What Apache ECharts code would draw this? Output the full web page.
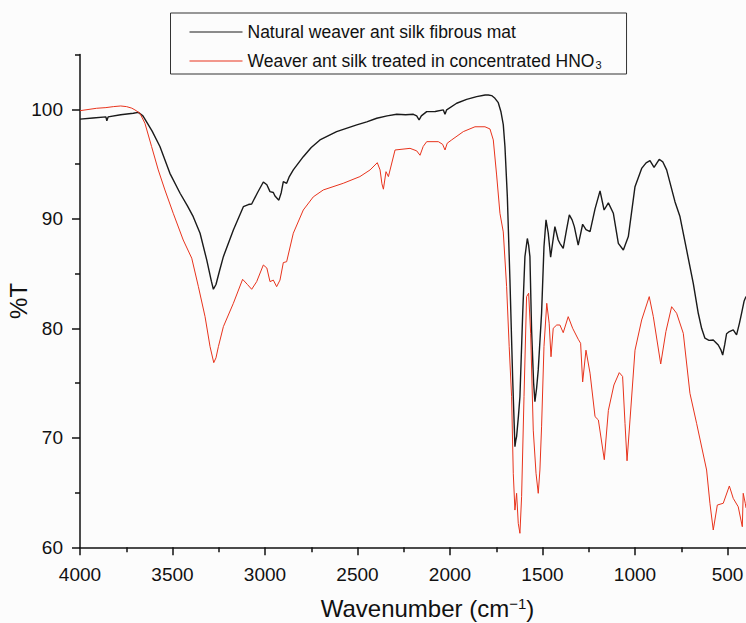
<!DOCTYPE html>
<html>
<head>
<meta charset="utf-8">
<style>
html, body {margin: 0; padding: 0; background: #fcfcfc;}
#main {width: 746px; height: 623px;}
</style>
<script src="https://cdn.jsdelivr.net/npm/echarts@6/dist/echarts.min.js"></script>
</head>
<body>
<div id="main"></div>
<script>
// FTIR spectra, [wavenumber, %T]
var naturalName = 'Natural weaver ant silk fibrous mat';
var treatedName = 'Weaver ant silk treated in concentrated HNO3';

var naturalSilk = [
    [4000,99.1],[3930,99.2],[3860,99.3],[3855,98.95],[3848,99.3],[3780,99.5],[3712,99.63],[3685,99.72],
    [3660,99.4],[3649,99.1],[3610,98.0],[3568,96.6],[3514,94.15],[3459,92.33],[3420,91.2],[3388,90.19],
    [3351,88.68],[3315,86.24],[3290,84.3],[3279,83.56],[3265,84.0],[3245,85.3],[3225,86.54],[3171,88.98],
    [3117,91.1],[3090,91.3],[3072,91.35],[3040,92.4],[3009,93.36],[2990,93.1],[2973,92.48],[2955,92.4],
    [2946,92.08],[2925,91.7],[2912,92.4],[2901,93.4],[2883,93.24],[2870,93.8],[2847,94.46],[2793,95.67],
    [2750,96.5],[2703,97.2],[2613,97.96],[2504,98.57],[2450,98.85],[2396,99.18],[2340,99.4],[2288,99.54],
    [2240,99.5],[2198,99.54],[2180,99.4],[2167,99.02],[2155,99.4],[2126,99.78],[2080,99.8],[2036,99.94],
    [2027,99.55],[2018,99.95],[1964,100.55],[1910,100.9],[1856,101.15],[1810,101.3],[1793,101.3],[1775,101.25],
    [1757,101.0],[1739,100.6],[1725,99.8],[1712,98.6],[1703,96.6],[1690,92.0],[1676,84.4],[1661,75.28],
    [1649,69.19],[1644,69.8],[1640,70.1],[1630,72.0],[1622,73.75],[1607,81.37],[1595,86.54],[1582,88.2],
    [1575,87.6],[1568,86.54],[1559,79.84],[1548,75.0],[1541,73.3],[1532,74.5],[1523,76.2],[1505,81.37],
    [1492,87.45],[1481,89.9],[1469,88.7],[1456,86.5],[1433,89.28],[1415,88.06],[1406,87.76],[1388,87.3],
    [1370,89.0],[1355,90.35],[1340,89.9],[1328,89.28],[1307,87.6],[1283,89.5],[1265,89.0],[1243,88.82],
    [1216,90.9],[1189,92.55],[1167,90.8],[1144,91.45],[1117,90.5],[1090,87.76],[1063,87.15],[1036,88.37],
    [1000,92.93],[964,94.6],[940,95.1],[919,95.3],[897,94.7],[869,95.43],[850,95.2],[829,94.46],
    [784,91.56],[757,90.2],[721,87.15],[685,84.1],[658,81.37],[640,80.0],[622,79.09],[600,78.9],
    [577,78.93],[550,78.47],[535,78.0],[526,77.56],[515,78.5],[505,79.5],[490,79.7],[469,79.85],
    [451,79.39],[435,80.5],[424,81.37],[410,82.5],[400,82.9]
];

var treatedSilk = [
    [4000,99.87],[3910,100.09],[3860,100.15],[3820,100.24],[3780,100.3],[3748,100.24],[3720,100.1],[3703,99.94],
    [3676,99.63],[3649,98.72],[3613,96.59],[3577,94.46],[3541,92.63],[3496,90.5],[3442,88.06],[3396,86.4],
    [3360,83.8],[3324,81.06],[3297,78.32],[3277,76.86],[3265,77.3],[3252,78.32],[3225,80.15],[3171,82.28],
    [3121,84.47],[3095,84.0],[3072,83.56],[3045,84.26],[3009,85.78],[2990,85.5],[2973,84.26],[2955,84.4],
    [2937,83.8],[2919,84.4],[2901,86.0],[2883,86.08],[2847,88.68],[2793,90.8],[2739,92.0],[2685,92.63],
    [2577,93.24],[2487,93.85],[2432,94.46],[2393,95.12],[2378,94.46],[2368,93.2],[2360,92.7],[2346,94.3],
    [2333,93.85],[2297,96.28],[2216,96.43],[2180,96.2],[2162,95.8],[2145,96.6],[2126,97.04],[2063,97.04],
    [2040,96.8],[2027,96.28],[2015,96.9],[1991,97.2],[1928,97.96],[1865,98.4],[1811,98.4],[1784,98.2],
    [1766,97.2],[1748,94.0],[1730,90.5],[1712,88.8],[1694,83.8],[1680,78.32],[1667,73.75],[1658,66.76],
    [1649,63.4],[1640,64.93],[1631,62.19],[1622,61.28],[1613,64.62],[1600,73.75],[1586,82.89],[1575,83.2],
    [1564,79.54],[1550,70.7],[1535,66.76],[1523,64.93],[1514,67.06],[1505,71.0],[1492,78.32],[1477,82.28],
    [1464,80.46],[1454,77.4],[1442,80.0],[1423,80.3],[1406,80.3],[1388,79.6],[1361,81.06],[1337,80.0],
    [1307,79.0],[1294,78.63],[1283,75.1],[1265,78.0],[1243,75.9],[1216,71.93],[1198,71.63],[1166,68.0],
    [1144,72.5],[1114,74.82],[1085,75.95],[1067,75.6],[1054,71.32],[1043,67.9],[1027,71.63],[1000,78.0],
    [964,80.76],[923,82.89],[901,81.06],[861,76.74],[833,79.7],[802,81.97],[775,81.37],[739,79.54],
    [703,74.06],[667,71.32],[613,67.06],[595,64.02],[577,61.58],[555,63.86],[523,64.02],[490,65.6],
    [469,64.47],[442,63.7],[420,61.88],[415,64.93],[404,64.02],[400,63.6]
];

var xMajorTicks = [4000, 3500, 3000, 2500, 2000, 1500, 1000, 500];
var xMinorTicks = [3750, 3250, 2750, 2250, 1750, 1250, 750];
var yMajorTicks = [60, 70, 80, 90, 100];
var yMinorTicks = [65, 75, 85, 95, 105];

var font = 'Liberation Sans, Arial, sans-serif';
var axisColor = '#111';

var chart = echarts.init(document.getElementById('main'), null, {renderer: 'svg'});

function plainNumber(v) {
    return String(v);
}

var option = {
    animation: false,
    backgroundColor: '#fcfcfc',
    grid: {left: 80, right: 0, top: 54.5, bottom: 75.7, containLabel: false, outerBoundsMode: 'none'},
    legend: {
        orient: 'vertical',
        left: 170.5,
        top: 13,
        padding: [10, 25, 4, 19],
        itemGap: 11,
        itemWidth: 53,
        itemHeight: 1.2,
        icon: 'rect',
        borderColor: '#333',
        borderWidth: 1,
        selectedMode: false,
        data: [naturalName, treatedName],
        formatter: function (name) {
            if (name === treatedName) {
                return '{t|Weaver ant silk treated in concentrated HNO}{s|3}';
            }
            return '{t|' + name + '}';
        },
        textStyle: {
            color: axisColor,
            fontFamily: font,
            rich: {
                t: {fontSize: 17.5, fontFamily: font, color: axisColor, lineHeight: 18},
                s: {fontSize: 11, fontFamily: font, color: axisColor, padding: [7, 0, 0, 1]}
            }
        }
    },
    xAxis: [{
        type: 'value',
        min: 400,
        max: 4000,
        inverse: true,
        name: '{a|Wavenumber (cm}{b|\u22121}{a|)}',
        nameLocation: 'middle',
        nameGap: 49,
        nameTextStyle: {
            padding: [0, 0, 0, 29],
            rich: {
                a: {fontSize: 24, fontFamily: font, color: axisColor},
                b: {fontSize: 15, fontFamily: font, color: axisColor, padding: [0, 0, 10, 0]}
            }
        },
        axisLine: {lineStyle: {color: axisColor, width: 1.5}},
        axisTick: {customValues: xMajorTicks, length: 8, lineStyle: {color: axisColor, width: 1.5}},
        axisLabel: {customValues: xMajorTicks, formatter: plainNumber, fontSize: 19, fontFamily: font, color: axisColor, margin: 18},
        splitLine: {show: false}
    }, {
        type: 'value',
        min: 400,
        max: 4000,
        inverse: true,
        position: 'bottom',
        axisLine: {show: false},
        axisTick: {customValues: xMinorTicks, length: 5, lineStyle: {color: axisColor, width: 1.5}},
        axisLabel: {show: false},
        splitLine: {show: false}
    }],
    yAxis: [{
        type: 'value',
        min: 60,
        max: 105,
        name: '%T',
        nameLocation: 'middle',
        nameGap: 50,
        nameMoveOverlap: false,
        nameTextStyle: {fontSize: 24, fontFamily: font, color: axisColor},
        axisLine: {show: true, lineStyle: {color: axisColor, width: 1.5}},
        axisTick: {show: true, customValues: yMajorTicks, length: 8, lineStyle: {color: axisColor, width: 1.5}},
        axisLabel: {customValues: yMajorTicks, formatter: plainNumber, fontSize: 19, fontFamily: font, color: axisColor, margin: 17},
        splitLine: {show: false}
    }, {
        type: 'value',
        min: 60,
        max: 105,
        position: 'left',
        axisLine: {show: false},
        axisTick: {show: true, customValues: yMinorTicks, length: 5, lineStyle: {color: axisColor, width: 1.5}},
        axisLabel: {show: false},
        splitLine: {show: false}
    }],
    series: [
        {
            name: naturalName,
            type: 'line',
            data: naturalSilk,
            symbol: 'none',
            color: '#1a1a1a',
            lineStyle: {width: 1.4, color: '#1a1a1a'}
        },
        {
            name: treatedName,
            type: 'line',
            data: treatedSilk,
            symbol: 'none',
            color: '#e8331c',
            lineStyle: {width: 1, color: '#e8331c'}
        }
    ]
};

chart.setOption(option);
</script>
</body>
</html>
